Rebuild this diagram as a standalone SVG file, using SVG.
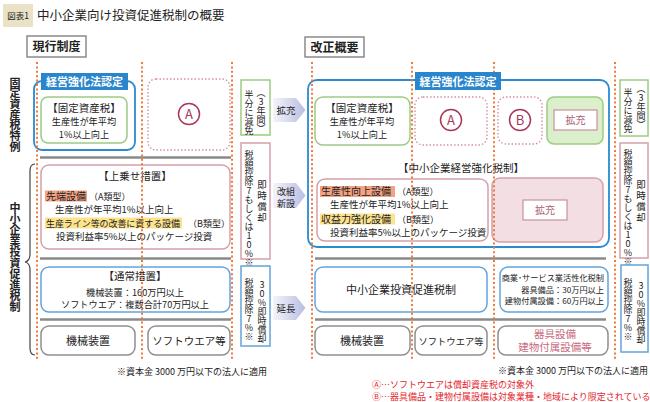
<svg xmlns="http://www.w3.org/2000/svg" width="650" height="402" viewBox="0 0 650 402">
<style>
text{font-family:"Noto Sans CJK JP","Noto Sans",sans-serif;fill:#222}
.c{text-anchor:middle}
.e{text-anchor:end}
.b{font-weight:bold}
.v{writing-mode:vertical-rl;text-orientation:upright}
.dot{stroke:#ee7a3c;stroke-width:2;stroke-dasharray:2 2.4;fill:none}
.sep{stroke:#8a8a8a;stroke-width:2.5}
.blue{fill:#fff;stroke:#2b8ad0;stroke-width:1.8}
.lblue{fill:#fff;stroke:#62a4dc;stroke-width:1.5}
.green{fill:#fff;stroke:#9ccc80;stroke-width:1.5}
.pink{fill:#fff;stroke:#d4a0aa;stroke-width:1.5}
.grey{fill:#fff;stroke:#8e8e8e;stroke-width:1.5}
.dpink{fill:#fff;stroke:#d490a0;stroke-width:1.4;stroke-dasharray:1.5 2}
.tab{fill:#2a86cc}
.circ{fill:none;stroke:#a8385a;stroke-width:1.5}
.cl{fill:#a8385a;font-size:13px}
.kk{fill:#fff;stroke:#c8909c;stroke-width:1.2}
.kt{fill:#a85c70;font-size:10px}
.red{fill:#e3262c;font-size:9px}
.arr{fill:url(#ag)}
.pk{fill:#c86a80}
</style>
<defs>
<linearGradient id="ag" x1="0" y1="0" x2="1" y2="0">
<stop offset="0" stop-color="#f4f4fb"/>
<stop offset="1" stop-color="#b9bde2"/>
</linearGradient>
</defs>

<g id="title">
<rect x="3" y="4" width="30" height="23" fill="#e9e2c6"/>
<text x="18" y="19" class="c" font-size="8.5">図表1</text>
<text x="37" y="20" font-size="12.5">中小企業向け投資促進税制の概要</text>
</g>

<g id="hdr-current">
<rect x="27" y="36" width="59" height="21" fill="#fff" stroke="#8a8a8a" stroke-width="1.5"/>
<text x="56.5" y="51" class="c b" font-size="12">現行制度</text>
</g>
<g id="hdr-revised">
<rect x="305" y="37" width="59" height="20" fill="#fff" stroke="#8a8a8a" stroke-width="1.5"/>
<text x="334.5" y="51.5" class="c b" font-size="12">改正概要</text>
</g>

<g id="label-fixed">
<text x="15" y="77" class="v b" font-size="11" letter-spacing="-0.3">固定資産税特例</text>
</g>
<g id="label-sme">
<text x="15" y="202" class="v b" font-size="11">中小企業投資促進税制</text>
<path d="M35 164 Q30 164 30 171 L30 254 Q30 261 25 262 Q30 263 30 270 L30 348 Q30 355 35 355" fill="none" stroke="#444" stroke-width="1.2"/>
</g>

<g id="separators">
<line x1="40" y1="157.5" x2="231" y2="157.5" class="sep"/>
<line x1="40" y1="258.5" x2="231" y2="258.5" class="sep"/>
<line x1="40" y1="319.5" x2="231" y2="319.5" class="sep"/>
<line x1="315" y1="157.5" x2="606" y2="157.5" class="sep"/>
<line x1="315" y1="258.5" x2="606" y2="258.5" class="sep"/>
<line x1="315" y1="319.5" x2="606" y2="319.5" class="sep"/>
</g>

<g id="cur-keiei">
<rect x="34" y="81" width="101" height="69" rx="8" class="blue"/>
</g>
<g id="cur-kotei">
<rect x="41" y="97" width="86" height="46" rx="7" class="green"/>
<text x="84" y="111.5" class="c" font-size="10.5">【固定資産税】</text>
<text x="84" y="125" class="c" font-size="9.2">生産性が年平均</text>
<text x="84" y="137.5" class="c" font-size="9.2">1%以上向上</text>
</g>
<g id="cur-a">
<rect x="148" y="79" width="82" height="71" rx="8" class="dpink"/>
<circle cx="189" cy="114" r="10.5" class="circ"/>
<text x="189" y="118.5" class="c cl">A</text>
</g>
<g id="cur-uwanose">
<rect x="41" y="165" width="189" height="84" rx="8" class="pink"/>
<text x="135" y="179.5" class="c" font-size="10.5">【上乗せ措置】</text>
<rect x="45" y="190.5" width="42" height="11" fill="#f4a283"/>
<text x="46" y="199.5" font-size="10">先端設備</text>
<text x="89" y="199.5" font-size="9">（A類型）</text>
<text x="55" y="212.5" font-size="9.5">生産性が年平均1%以上向上</text>
<rect x="45" y="217.5" width="137" height="11" fill="#fde38c"/>
<text x="46" y="226.5" font-size="9" textLength="134">生産ライン等の改善に資する設備</text>
<text x="188" y="226.5" font-size="9">（B類型）</text>
<text x="56" y="239.5" font-size="9.5">投資利益率5%以上のパッケージ投資</text>
</g>
<g id="cur-tsujo">
<rect x="41" y="267" width="189" height="45" rx="8" class="lblue"/>
<text x="135" y="279.5" class="c" font-size="10.5">【通常措置】</text>
<text x="135" y="295.5" class="c" font-size="9.2">機械装置：160万円以上</text>
<text x="135" y="308" class="c" font-size="9.2">ソフトウエア：複数合計70万円以上</text>
</g>
<g id="cur-kikai">
<rect x="41" y="326" width="94" height="29" rx="8" class="grey"/>
<text x="88" y="345" class="c" font-size="11">機械装置</text>
</g>
<g id="cur-soft">
<rect x="148" y="326" width="82" height="29" rx="8" class="grey"/>
<text x="189" y="345" class="c" font-size="10.5">ソフトウエア等</text>
</g>
<g id="cur-side-green">
<rect x="241" y="80" width="29" height="55" class="green"/>
<text x="249" y="90" class="v" font-size="9">半分に減免</text>
<text x="261" y="88" class="v" font-size="9">（3年間）</text>
</g>
<g id="cur-side-pink">
<rect x="241" y="143" width="29" height="116" class="pink"/>
<text x="249" y="150" class="v" font-size="9">税額控除7もしくは10%※</text>
<text x="262" y="180" class="v" font-size="9.5" letter-spacing="1.3">即時償却</text>
</g>
<g id="cur-side-blue">
<rect x="241" y="266" width="29" height="80" class="lblue"/>
<text x="249" y="278" class="v" font-size="9">税額控除7%※</text>
<text x="262" y="280" class="v" font-size="9">30%即時償却</text>
</g>
<g id="cur-note">
<text x="117" y="375" font-size="9">※資本金 3000 万円以下の法人に適用</text>
</g>

<g id="arrow-kakuju">
<polygon points="273,98 296,98 305.5,110 296,122 273,122" class="arr"/>
<text x="286" y="114" class="c" font-size="9.5">拡充</text>
</g>
<g id="arrow-kaiso">
<polygon points="273,183 296,183 305.5,195.5 296,208 273,208" class="arr"/>
<text x="286" y="194.5" class="c" font-size="9">改組</text>
<text x="286" y="207" class="c" font-size="9">新設</text>
</g>
<g id="arrow-encho">
<polygon points="273,296 296,296 305.5,308 296,320 273,320" class="arr"/>
<text x="286" y="312" class="c" font-size="9.5">延長</text>
</g>

<g id="rev-keiei">
<rect x="308" y="80" width="301" height="167" rx="9" class="blue" stroke-width="2"/>
</g>
<g id="rev-kotei">
<rect x="315" y="97" width="95" height="48" rx="8" class="green"/>
<text x="362" y="111.5" class="c" font-size="10.5">【固定資産税】</text>
<text x="362" y="125" class="c" font-size="9.2">生産性が年平均</text>
<text x="362" y="137.5" class="c" font-size="9.2">1%以上向上</text>
</g>
<g id="rev-a">
<rect x="415" y="97" width="72" height="48" rx="8" class="dpink"/>
<circle cx="451" cy="120" r="10.5" class="circ"/>
<text x="451" y="124.5" class="c cl">A</text>
</g>
<g id="rev-b">
<rect x="498" y="97" width="44" height="47" rx="8" class="dpink"/>
<circle cx="520" cy="120" r="10.5" class="circ"/>
<text x="520" y="124.5" class="c cl">B</text>
</g>
<g id="rev-kakuju1">
<rect x="547" y="97" width="56" height="47" rx="7" fill="#dcefcc" stroke="#9ccc80" stroke-width="1.5"/>
<rect x="554" y="110" width="43" height="20" class="kk"/>
<text x="575.5" y="124" class="c kt">拡充</text>
</g>
<g id="rev-kyoka">
<text x="461" y="172" class="c" font-size="10.5">【中小企業経営強化税制】</text>
<rect x="317" y="179" width="171" height="62" rx="8" class="pink"/>
<rect x="320" y="186" width="75" height="11" fill="#f4a283"/>
<text x="321" y="195" font-size="10">生産性向上設備</text>
<text x="397" y="195" font-size="9">（A類型）</text>
<text x="330" y="207.5" font-size="9.5">生産性が年平均1%以上向上</text>
<rect x="320" y="213.5" width="75" height="11" fill="#fde38c"/>
<text x="321" y="222.5" font-size="10">収益力強化設備</text>
<text x="397" y="222.5" font-size="9">（B類型）</text>
<text x="330" y="235.5" font-size="9.5">投資利益率5%以上のパッケージ投資</text>
</g>
<g id="rev-kakuju2">
<rect x="492" y="178" width="111" height="64" rx="8" fill="#f3dfe3" stroke="#d4a0aa" stroke-width="1.5"/>
<rect x="523" y="200" width="44" height="20" class="kk"/>
<text x="545" y="214" class="c kt">拡充</text>
</g>
<g id="rev-toshi">
<rect x="315" y="267" width="172" height="45" rx="8" class="lblue"/>
<text x="401" y="294" class="c" font-size="11">中小企業投資促進税制</text>
</g>
<g id="rev-shogyo">
<rect x="500" y="267" width="108" height="45" rx="8" class="lblue"/>
<text x="604" y="280.5" class="e" font-size="8.2">商業･サービス業活性化税制</text>
<text x="604" y="292.5" class="e" font-size="8.2">器具備品：30万円以上</text>
<text x="604" y="304" class="e" font-size="8.2">建物付属設備：60万円以上</text>
</g>
<g id="rev-kikai">
<rect x="315" y="326" width="95" height="29" rx="8" class="grey"/>
<text x="362" y="345" class="c" font-size="11">機械装置</text>
</g>
<g id="rev-soft">
<rect x="415" y="326" width="72" height="29" rx="8" class="grey"/>
<text x="451" y="344.5" class="c" font-size="9.3">ソフトウエア等</text>
</g>
<g id="rev-kigu">
<rect x="498" y="326" width="110" height="29" rx="8" class="grey"/>
<text x="555" y="337.5" class="c pk" font-size="10.5">器具設備</text>
<text x="555" y="351" class="c pk" font-size="10.5">建物付属設備等</text>
</g>
<g id="rev-side-green">
<rect x="620" y="80" width="28" height="56" class="green"/>
<text x="628" y="88" class="v" font-size="9">半分に減免</text>
<text x="641" y="84" class="v" font-size="9">（3年間）</text>
</g>
<g id="rev-side-pink">
<rect x="620" y="143" width="28" height="115" class="pink"/>
<text x="628" y="149" class="v" font-size="9">税額控除7もしくは10%※</text>
<text x="641" y="180" class="v" font-size="9.5" letter-spacing="1.3">即時償却</text>
</g>
<g id="rev-side-blue">
<rect x="621" y="265" width="27" height="87" class="lblue"/>
<text x="628" y="278" class="v" font-size="9">税額控除7%※</text>
<text x="641" y="281" class="v" font-size="9">30%即時償却</text>
</g>

<g id="guides">
<line x1="37" y1="62" x2="37" y2="361" class="dot"/>
<line x1="142" y1="62" x2="142" y2="361" class="dot"/>
<line x1="232" y1="62" x2="232" y2="361" class="dot"/>
<line x1="312" y1="62" x2="312" y2="361" class="dot"/>
<line x1="412" y1="62" x2="412" y2="361" class="dot"/>
<line x1="494" y1="62" x2="494" y2="361" class="dot"/>
<line x1="615" y1="62" x2="615" y2="361" class="dot"/>
</g>

<g id="tab-cur">
<rect x="41" y="73" width="87" height="17" class="tab"/>
<text x="84.5" y="85.5" class="c b" font-size="11" style="fill:#fff">経営強化法認定</text>
</g>
<g id="tab-rev">
<rect x="415" y="72" width="86" height="18" class="tab"/>
<text x="458" y="85.5" class="c b" font-size="11" style="fill:#fff">経営強化法認定</text>
</g>

<g id="notes">
<text x="648" y="373.5" class="e" font-size="9">※資本金 3000 万円以下の法人に適用</text>
<text x="372" y="388" class="red">Ⓐ…ソフトウエアは償却資産税の対象外</text>
<text x="372" y="400" class="red">Ⓑ…器具備品・建物付属設備は対象業種・地域により限定されている</text>
</g>
</svg>
